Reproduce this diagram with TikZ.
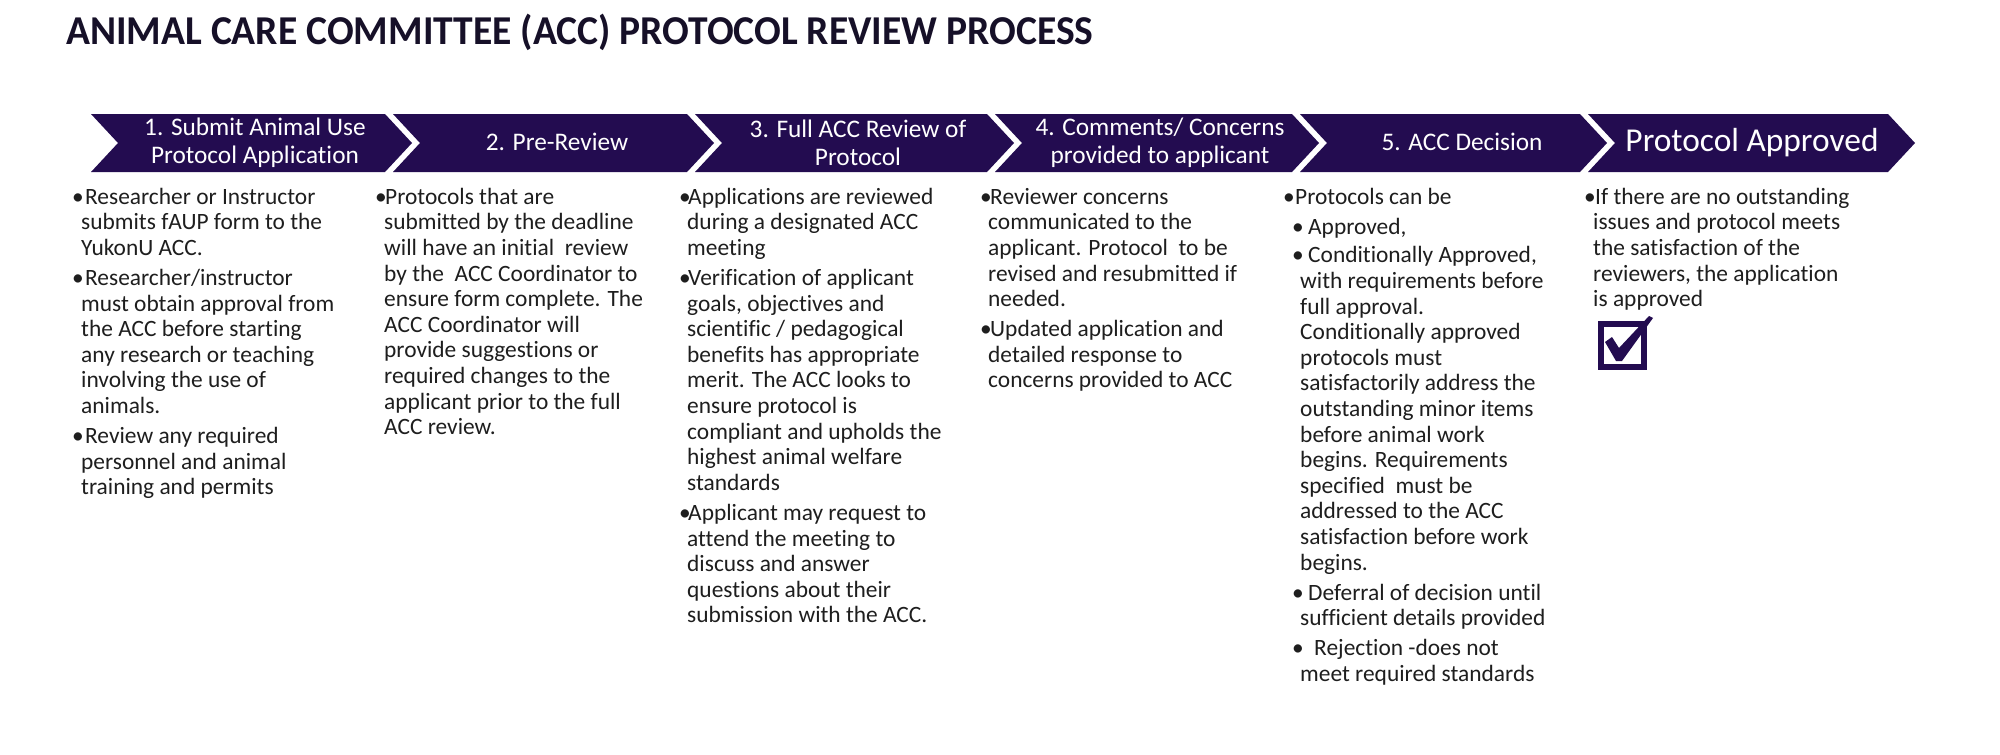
\documentclass[tikz,border=0pt]{standalone}
\usepackage{fontspec}
\setmainfont{Carlito}[Ligatures=NoCommon]
\definecolor{chev}{RGB}{35,12,80}
\definecolor{bodyc}{RGB}{30,30,30}
\definecolor{ttl}{RGB}{22,16,40}
\newcommand\bl[1]{\makebox[#1pt][l]{\hspace*{-2pt}•}}
\newcommand\ind[1]{\hspace*{#1pt}}
\newcommand\fl{\rule{0pt}{17.9pt}}
\tikzset{
  chevtext/.style={text=white, align=center, inner sep=0, font=\fontsize{25.3}{28}\selectfont},
  bodytext/.style={text=bodyc, align=left, anchor=north west, inner sep=0, font=\fontsize{23.4}{25.6}\selectfont},
  chevshape/.style={fill=chev}
}
\begin{document}
\begin{tikzpicture}[x=1pt,y=-1pt]
\useasboundingbox (0,0) rectangle (2000,755);
\fill[white] (0,0) rectangle (2000,755);
% title
\node[anchor=base west, inner sep=0, text=ttl, font=\fontsize{41}{48}\selectfont\bfseries] (title) at (66,44) {\scalebox{0.965}[1]{ANIMAL CARE COMMITTEE (ACC) PROTOCOL REVIEW PROCESS}};
% chevrons
\foreach \s/\e in {91/385, 393/687, 695/987, 995/1292, 1300/1580, 1588/1888}{
  \fill[chevshape] (\s,114) -- (\e,114) -- (\e+27,143) -- (\e,172) -- (\s,172) -- (\s+27,143) -- cycle;
}
\node[chevtext] (c1) at (255,143) {1. Submit Animal Use\\Protocol Application};
\node[chevtext] (c2) at (557,142) {2. Pre-Review};
\node[chevtext] (c3) at (858,143) {3. Full ACC Review of\\Protocol};
\node[chevtext] (c4) at (1160,143) {4. Comments/ Concerns\\provided to applicant};
\node[chevtext] (c5) at (1462,142) {5. ACC Decision};
\node[chevtext, font=\fontsize{33.4}{36}\selectfont] (c6) at (1752,143) {Protocol Approved};
% column 1
\node[bodytext] (t1) at (74,186.1) {\bl{11}\fl Researcher or Instructor\\
\ind{7}submits fAUP form to the\\
\ind{7}YukonU ACC.\\[4.5pt]
\bl{11}Researcher/instructor\\
\ind{7}must obtain approval from\\
\ind{7}the ACC before starting\\
\ind{7}any research or teaching\\
\ind{7}involving the use of\\
\ind{7}animals.\\[4.5pt]
\bl{11}Review any required\\
\ind{7}personnel and animal\\
\ind{7}training and permits};
% column 2
\node[bodytext] (t2) at (377,186.1) {\bl{8}\fl Protocols that are\\
\ind{7}submitted by the deadline\\
\ind{7}will have an initial~ review\\
\ind{7}by the~ ACC Coordinator to\\
\ind{7}ensure form complete. The\\
\ind{7}ACC Coordinator will\\
\ind{7}provide suggestions or\\
\ind{7}required changes to the\\
\ind{7}applicant prior to the full\\
\ind{7}ACC review.};
% column 3
\node[bodytext] (t3) at (681,186.1) {\bl{7}\fl Applications are reviewed\\
\ind{6}during a designated ACC\\
\ind{6}meeting\\[4.5pt]
\bl{7}Verification of applicant\\
\ind{6}goals, objectives and\\
\ind{6}scientific / pedagogical\\
\ind{6}benefits has appropriate\\
\ind{6}merit. The ACC looks to\\
\ind{6}ensure protocol is\\
\ind{6}compliant and upholds the\\
\ind{6}highest animal welfare\\
\ind{6}standards\\[4.5pt]
\bl{7}Applicant may request to\\
\ind{6}attend the meeting to\\
\ind{6}discuss and answer\\
\ind{6}questions about their\\
\ind{6}submission with the ACC.};
% column 4
\node[bodytext] (t4) at (982,186.1) {\bl{8}\fl Reviewer concerns\\
\ind{6}communicated to the\\
\ind{6}applicant. Protocol~ to be\\
\ind{6}revised and resubmitted if\\
\ind{6}needed.\\[4.5pt]
\bl{8}Updated application and\\
\ind{6}detailed response to\\
\ind{6}concerns provided to ACC};
% column 5
\node[bodytext] (t5) at (1285,186.1) {\bl{10}\fl Protocols can be\\[4.5pt]
\ind{9}\bl{14}Approved,\\[3pt]
\ind{9}\bl{14}Conditionally Approved,\\
\ind{15}with requirements before\\
\ind{15}full approval.\\
\ind{15}Conditionally approved\\
\ind{15}protocols must\\
\ind{15}satisfactorily address the\\
\ind{15}outstanding minor items\\
\ind{15}before animal work\\
\ind{15}begins. Requirements\\
\ind{15}specified~ must be\\
\ind{15}addressed to the ACC\\
\ind{15}satisfaction before work\\
\ind{15}begins.\\[4.5pt]
\ind{9}\bl{14}Deferral of decision until\\
\ind{15}sufficient details provided\\[4.5pt]
\ind{9}\bl{20}Rejection -does not\\
\ind{15}meet required standards};
% column 6
\node[bodytext] (t6) at (1586,186.1) {\bl{9}\fl If there are no outstanding\\
\ind{7}issues and protocol meets\\
\ind{7}the satisfaction of the\\
\ind{7}reviewers, the application\\
\ind{7}is approved};
% checkbox
\node[draw=chev, line width=6pt, minimum size=43pt, inner sep=0] (box) at (1622.5,345) {};
\fill[chev] (1605,342) -- (1612,337) -- (1619,348) -- (1649,316) -- (1653,318) -- (1622,361) -- (1616,361) -- cycle;
\end{tikzpicture}
\end{document}
